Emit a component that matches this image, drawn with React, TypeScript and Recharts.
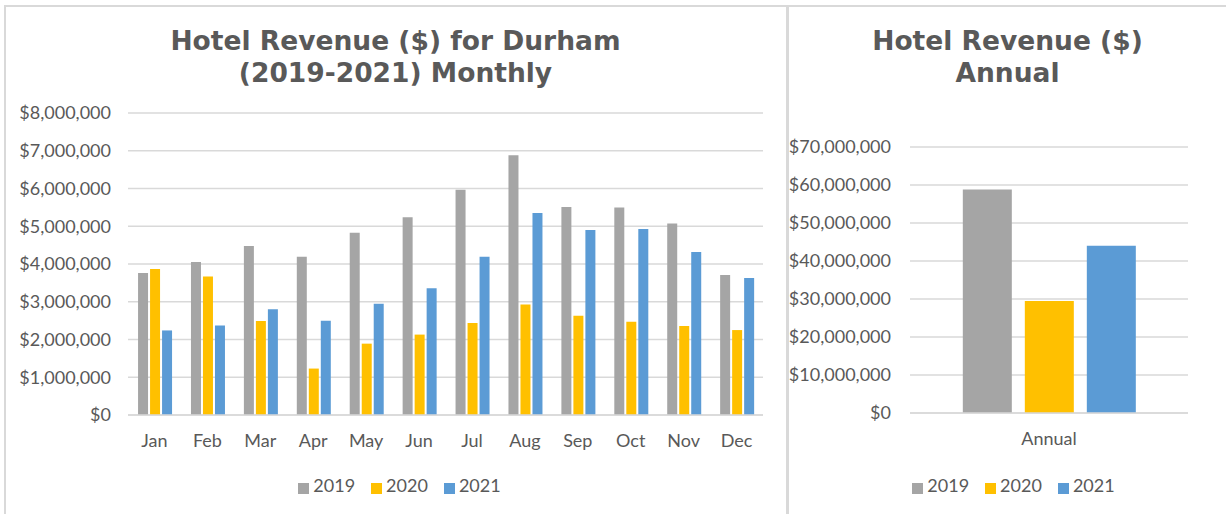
import { BarChart, Bar, XAxis, YAxis, CartesianGrid, Legend } from "recharts";

const months = ["Jan", "Feb", "Mar", "Apr", "May", "Jun", "Jul", "Aug", "Sep", "Oct", "Nov", "Dec"];
const rev2019 = [3760000, 4050000, 4480000, 4190000, 4830000, 5240000, 5970000, 6880000, 5510000, 5500000, 5070000, 3710000];
const rev2020 = [3870000, 3670000, 2490000, 1230000, 1890000, 2130000, 2440000, 2930000, 2630000, 2470000, 2360000, 2250000];
const rev2021 = [2240000, 2370000, 2800000, 2500000, 2950000, 3360000, 4190000, 5350000, 4900000, 4930000, 4320000, 3630000];

const annualLabels = ["Annual"];
const annual2019 = [58800000];
const annual2020 = [29500000];
const annual2021 = [44000000];

const monthlyTicks = [0, 1000000, 2000000, 3000000, 4000000, 5000000, 6000000, 7000000, 8000000];
const annualTicks = [0, 10000000, 20000000, 30000000, 40000000, 50000000, 60000000, 70000000];

const monthly = months.map((m, i) => ({ month: m, y2019: rev2019[i], y2020: rev2020[i], y2021: rev2021[i] }));
const annual = annualLabels.map((l, i) => ({ label: l, y2019: annual2019[i], y2020: annual2020[i], y2021: annual2021[i] }));

const GRAY = "#A5A5A5";
const GOLD = "#FFC000";
const BLUE = "#5B9BD5";
const TEXT = "#595959";
const LINE = "#d9d9d9";
const tickFont = "Lato, 'Open Sans', sans-serif";
const titleFont = "'DejaVu Sans', Verdana, sans-serif";

const money = (v: number) => "$" + v.toLocaleString("en-US");
const tickStyle = { fill: TEXT, fontSize: 18, fontFamily: tickFont };
// extra right margin so the legend items sit as far apart as in Excel
const legendText = (value: string) => (
  <span style={{ color: TEXT, fontSize: 18, fontFamily: tickFont, marginRight: 6 }}>{value}</span>
);

const titleStyle: React.CSSProperties = {
  position: "absolute",
  top: 25,
  textAlign: "center",
  color: TEXT,
  fontFamily: titleFont,
  fontWeight: "bold",
  fontSize: 26.5,
  lineHeight: "32px",
};

export default function App() {
  return (
    <div style={{ position: "absolute", left: 0, top: 0, width: 1226, height: 514, background: "#fff", overflow: "hidden" }}>
      {/* panel borders */}
      <div style={{ position: "absolute", left: 4, top: 5, width: 1222, height: 1.5, background: LINE }} />
      <div style={{ position: "absolute", left: 4, top: 5, width: 1.5, height: 509, background: LINE }} />
      <div style={{ position: "absolute", left: 786, top: 5, width: 3, height: 509, background: LINE }} />

      <div style={{ ...titleStyle, left: 4, width: 783 }}>
        Hotel Revenue ($) for Durham
        <br />
        (2019-2021) Monthly
      </div>
      <div style={{ ...titleStyle, left: 789, width: 437 }}>
        Hotel Revenue ($)
        <br />
        Annual
      </div>

      <div style={{ position: "absolute", left: 0, top: 0 }}>
        <BarChart
          width={787}
          height={514}
          data={monthly}
          margin={{ top: 113, right: 24, bottom: 59, left: 0 }}
          barCategoryGap="19%"
          barGap={2}
        >
          <CartesianGrid vertical={false} stroke={LINE} strokeWidth={1.5} />
          <XAxis
            dataKey="month"
            interval={0}
            height={40}
            axisLine={{ stroke: LINE, strokeWidth: 1.5 }}
            tickLine={false}
            tickSize={0}
            tickMargin={19}
            tick={tickStyle}
          />
          <YAxis
            width={128}
            domain={[0, 8000000]}
            ticks={monthlyTicks}
            tickFormatter={money}
            axisLine={false}
            tickLine={false}
            tickSize={0}
            tickMargin={17}
            tick={tickStyle}
          />
          <Bar dataKey="y2019" name="2019" fill={GRAY} isAnimationActive={false} />
          <Bar dataKey="y2020" name="2020" fill={GOLD} isAnimationActive={false} />
          <Bar dataKey="y2021" name="2021" fill={BLUE} isAnimationActive={false} />
          <Legend
            verticalAlign="middle"
            align="center"
            iconType="square"
            iconSize={11}
            formatter={legendText}
            wrapperStyle={{ top: 474, left: 14, width: 787 }}
          />
        </BarChart>
      </div>

      <div style={{ position: "absolute", left: 787, top: 0 }}>
        <BarChart
          width={439}
          height={514}
          data={annual}
          margin={{ top: 147, right: 38, bottom: 61, left: 0 }}
          barCategoryGap="19%"
          barGap={13}
        >
          <CartesianGrid vertical={false} stroke={LINE} strokeWidth={1.5} />
          <XAxis
            dataKey="label"
            height={40}
            axisLine={{ stroke: LINE, strokeWidth: 1.5 }}
            tickLine={false}
            tickSize={0}
            tickMargin={19}
            tick={tickStyle}
          />
          <YAxis
            width={123}
            domain={[0, 70000000]}
            ticks={annualTicks}
            tickFormatter={money}
            axisLine={false}
            tickLine={false}
            tickSize={0}
            tickMargin={19}
            tick={tickStyle}
          />
          <Bar dataKey="y2019" name="2019" fill={GRAY} isAnimationActive={false} />
          <Bar dataKey="y2020" name="2020" fill={GOLD} isAnimationActive={false} />
          <Bar dataKey="y2021" name="2021" fill={BLUE} isAnimationActive={false} />
          <Legend
            verticalAlign="middle"
            align="center"
            iconType="square"
            iconSize={11}
            formatter={legendText}
            wrapperStyle={{ top: 474, left: 15, width: 439 }}
          />
        </BarChart>
      </div>
    </div>
  );
}
